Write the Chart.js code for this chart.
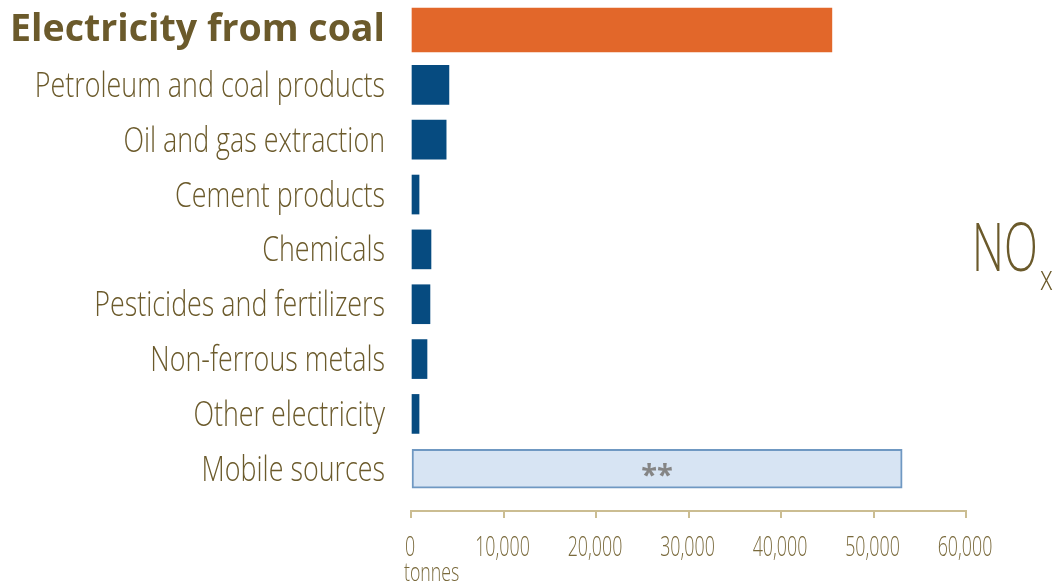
<!DOCTYPE html>
<html>
<head>
<meta charset="utf-8">
<script src="https://cdn.jsdelivr.net/npm/chart.js"></script>
<style>
    html, body { margin: 0; padding: 0; background: #ffffff; }
    #wrap { width: 1058px; height: 586px; position: relative; }
</style>
</head>
<body>
<div id="wrap"><canvas id="nox-chart"></canvas></div>
<script>
// sources of NOx, tonnes
const categories = [
    'Electricity from coal',
    'Petroleum and coal products',
    'Oil and gas extraction',
    'Cement products',
    'Chemicals',
    'Pesticides and fertilizers',
    'Non-ferrous metals',
    'Other electricity',
    'Mobile sources'
];
const tonnes = [45500, 4100, 3800, 870, 2160, 2050, 1730, 870, 53100];
const xTicks = [0, 10000, 20000, 30000, 40000, 50000, 60000];
const highlightIndex = 0;
const estimatedIndex = 8;
const axisTitle = 'tonnes';
const pollutant = 'NO';
const pollutantSub = 'x';

const labelColor = '#6b5a2b';
const tickColor = '#7a6a3c';
const axisColor = '#cbbd92';
const lightFont = '"Open Sans", "DejaVu Sans", sans-serif';

const coalData = tonnes.map((v, i) => ({ x: i === highlightIndex ? v : null, y: i }));
const otherData = tonnes.map((v, i) => ({ x: i === highlightIndex ? null : v, y: i }));

// the original uses a condensed light face, so squeeze the text horizontally
function drawSqueezed(ctx, text, x, y, font, sx, align) {
    ctx.save();
    ctx.font = font;
    const w = ctx.measureText(text).width * sx;
    let left = x;
    if (align === 'right') left = x - w;
    if (align === 'center') left = x - w / 2;
    ctx.translate(left, y);
    ctx.scale(sx, 1);
    ctx.textAlign = 'left';
    ctx.fillText(text, 0, 0);
    ctx.restore();
}

const textLayer = {
    id: 'textLayer',
    afterDraw(chart) {
        const ctx = chart.ctx;
        const xScale = chart.scales.x;
        const yScale = chart.scales.y;
        ctx.save();
        ctx.textBaseline = 'alphabetic';

        // category labels
        ctx.fillStyle = labelColor;
        categories.forEach((name, i) => {
            const y = yScale.getPixelForValue(i);
            if (i === highlightIndex) {
                ctx.font = 'bold 38px ' + lightFont;
                const sx = Math.min(1, 375 / ctx.measureText(name).width);
                drawSqueezed(ctx, name, 385, y + 11, 'bold 38px ' + lightFont, sx, 'right');
            } else {
                drawSqueezed(ctx, name, 385, y + 12, '300 34px ' + lightFont, 0.79, 'right');
            }
        });

        // x tick labels
        ctx.fillStyle = tickColor;
        xTicks.forEach(v => {
            drawSqueezed(ctx, v.toLocaleString('en-US'), xScale.getPixelForValue(v) - 1, 556,
                '300 27px ' + lightFont, 0.66, 'center');
        });
        drawSqueezed(ctx, axisTitle, xScale.getPixelForValue(0) - 7, 581, '300 25px ' + lightFont, 0.71, 'left');

        // ** inside the mobile sources bar
        const bar = chart.getDatasetMeta(1).data[estimatedIndex];
        if (bar) {
            ctx.fillStyle = '#858585';
            drawSqueezed(ctx, '**', (bar.base + bar.x) / 2, bar.y + 16, 'bold 29px ' + lightFont, 1, 'center');
        }

        // NOx label on the right
        ctx.fillStyle = labelColor;
        drawSqueezed(ctx, pollutant, 972, 271, '300 67px ' + lightFont, 0.66, 'left');
        drawSqueezed(ctx, pollutantSub, 1040, 290, '300 34px ' + lightFont, 0.76, 'left');

        ctx.restore();
    }
};

new Chart(document.getElementById('nox-chart'), {
    type: 'bar',
    data: {
        datasets: [
            {
                label: 'coal',
                data: coalData,
                backgroundColor: '#e2672a',
                borderWidth: 0,
                barThickness: 44,
                grouped: false
            },
            {
                label: 'other',
                data: otherData,
                backgroundColor: tonnes.map((v, i) => i === estimatedIndex ? '#d7e4f3' : '#064b80'),
                borderColor: tonnes.map((v, i) => i === estimatedIndex ? '#6f98c2' : '#064b80'),
                borderWidth: tonnes.map((v, i) => i === estimatedIndex ? 2 : 0),
                borderSkipped: false,
                barThickness: 39,
                grouped: false
            }
        ]
    },
    options: {
        indexAxis: 'y',
        responsive: true,
        maintainAspectRatio: false,
        animation: false,
        layout: {
            padding: { left: 0, right: 92, top: 0, bottom: 0 }
        },
        scales: {
            x: {
                type: 'linear',
                min: 0,
                max: 60000,
                afterFit(scale) { scale.height = 75; },
                afterBuildTicks(scale) { scale.ticks = xTicks.map(v => ({ value: v })); },
                grid: {
                    display: true,
                    drawOnChartArea: false,
                    drawTicks: true,
                    tickLength: 7,
                    color: axisColor,
                    lineWidth: 2
                },
                border: { display: true, color: axisColor, width: 2 },
                ticks: { display: false }
            },
            y: {
                type: 'linear',
                reverse: true,
                offset: false,
                min: -0.547,
                max: 8.77,
                afterFit(scale) { scale.width = 411; },
                afterBuildTicks(scale) { scale.ticks = categories.map((c, i) => ({ value: i })); },
                grid: { display: false, offset: false },
                border: { display: false },
                ticks: { display: false }
            }
        },
        plugins: {
            legend: { display: false },
            tooltip: { enabled: false }
        }
    },
    plugins: [textLayer]
});
</script>
</body>
</html>
